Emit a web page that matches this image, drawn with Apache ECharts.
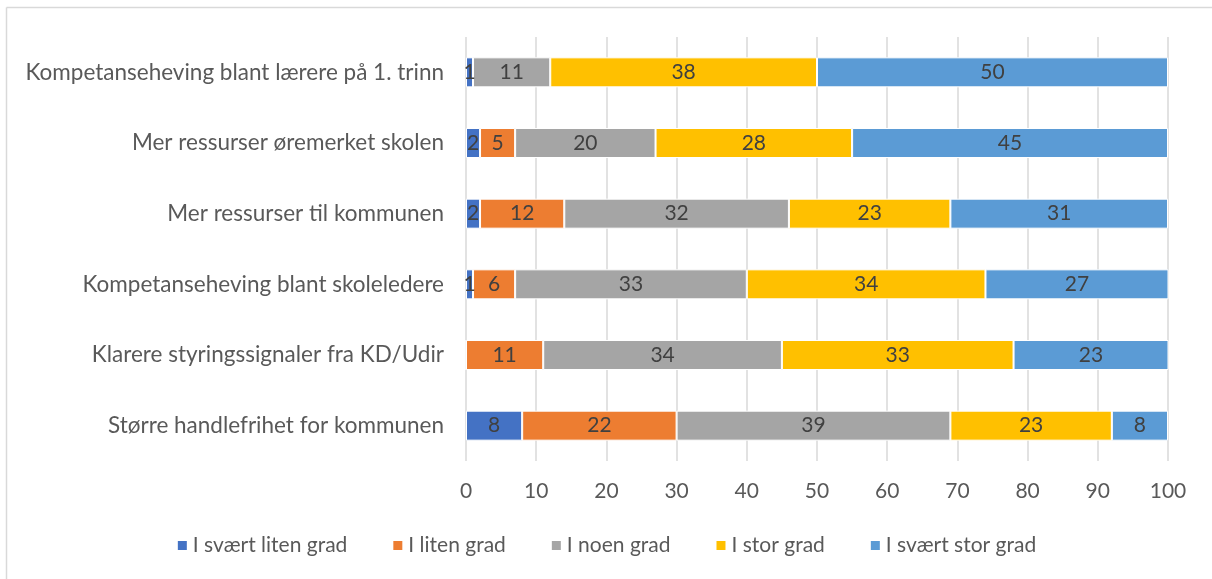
<!DOCTYPE html>
<html>
<head>
<meta charset="utf-8">
<title>Tiltak</title>
<script src="https://cdn.jsdelivr.net/npm/echarts@6/dist/echarts.min.js"></script>
<style>
  html, body { margin: 0; padding: 0; background: #fff; }
  #chart { width: 1212px; height: 579px; }
</style>
</head>
<body>
<div id="chart"></div>
<script>
  var categories = [
    'Kompetanseheving blant lærere på 1. trinn',
    'Mer ressurser øremerket skolen',
    'Mer ressurser til kommunen',
    'Kompetanseheving blant skoleledere',
    'Klarere styringssignaler fra KD/Udir',
    'Større handlefrihet for kommunen'
  ];
  var seriesNames = ['I svært liten grad', 'I liten grad', 'I noen grad', 'I stor grad', 'I svært stor grad'];
  var svaertLiten = [1, 2, 2, 1, 0, 8];
  var liten = [0, 5, 12, 6, 11, 22];
  var noen = [11, 20, 32, 33, 34, 39];
  var stor = [38, 28, 23, 34, 33, 23];
  var svaertStor = [50, 45, 31, 27, 23, 8];
  var xTicks = [0, 10, 20, 30, 40, 50, 60, 70, 80, 90, 100];

  var colors = ['#4472C4', '#ED7D31', '#A5A5A5', '#FFC000', '#5B9BD5'];
  var values = [svaertLiten, liten, noen, stor, svaertStor];
  var font = 'Lato, "Open Sans", sans-serif';

  var series = [];
  for (var i = 0; i < seriesNames.length; i++) {
    series.push({
      name: seriesNames[i],
      type: 'bar',
      stack: 'total',
      barWidth: 30,
      data: values[i],
      itemStyle: { color: colors[i], borderColor: '#fff', borderWidth: 1 },
      label: {
        show: true,
        position: 'inside',
        color: '#404040',
        fontFamily: font,
        fontSize: 21,
        formatter: function (p) { return p.value > 0 ? p.value : ''; }
      }
    });
  }

  var myChart = echarts.init(document.getElementById('chart'));
  var option = {
    animation: false,
    color: colors,
    grid: { left: 466, right: 44, top: 37, bottom: 118, containLabel: false },
    legend: {
      data: seriesNames,
      bottom: 18,
      left: 'center',
      itemWidth: 11,
      itemHeight: 11,
      itemGap: 44,
      icon: 'rect',
      textStyle: { color: '#595959', fontSize: 21, fontFamily: font }
    },
    xAxis: {
      type: 'value',
      min: xTicks[0],
      max: xTicks[xTicks.length - 1],
      interval: 10,
      axisLine: { show: false },
      axisTick: { show: false },
      splitLine: { lineStyle: { color: '#d9d9d9', width: 1.5 } },
      axisLabel: { color: '#595959', fontSize: 21, fontFamily: font, margin: 20 }
    },
    yAxis: {
      type: 'category',
      inverse: true,
      data: categories,
      axisLine: { show: false },
      axisTick: { show: false },
      axisLabel: { color: '#595959', fontSize: 22.5, fontFamily: font, margin: 22 }
    },
    graphic: [
      { type: 'line', shape: { x1: 6.5, y1: 7.5, x2: 1212, y2: 7.5 }, style: { stroke: '#d9d9d9', lineWidth: 1.5 } },
      { type: 'line', shape: { x1: 6.5, y1: 7.5, x2: 6.5, y2: 579 }, style: { stroke: '#d9d9d9', lineWidth: 1.5 } }
    ],
    series: series
  };
  myChart.setOption(option);
</script>
</body>
</html>
